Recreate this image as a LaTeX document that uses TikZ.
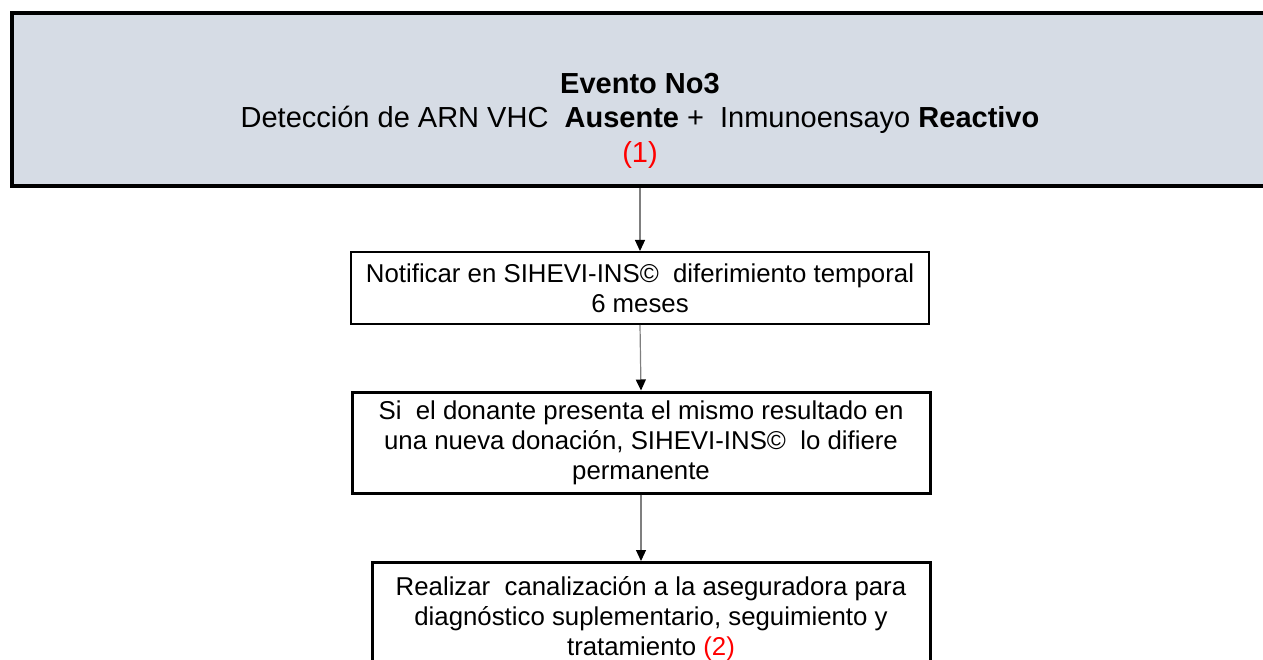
\documentclass[tikz,border=0pt]{standalone}
\usepackage{fontspec}
\setmainfont{Liberation Sans}
\usetikzlibrary{arrows.meta}
\definecolor{topfill}{HTML}{D6DCE5}
\definecolor{conngray}{HTML}{7F7F7F}
\begin{document}
\begin{tikzpicture}[x=1pt,y=-1pt,
  box/.style={draw=black,fill=white,rectangle,inner sep=0pt,align=center,
    font=\fontsize{25.8}{30}\selectfont},
  conn/.style={draw=conngray,line width=1.2pt,-{Triangle[length=11pt,width=10pt,color=black]}}]
\useasboundingbox (0,0) rectangle (1263,660);
\node[draw=black,line width=4pt,fill=topfill,rectangle,inner sep=0pt,
  minimum width=1270pt,minimum height=173pt,anchor=north west] (top) at (10,11.5) {};
\node[align=center,font=\fontsize{29}{33.5}\selectfont] (toptext) at (640,121)
  {\textbf{Evento No3}\\Detección de ARN VHC\ \ \textbf{Ausente} +\ \ Inmunoensayo \textbf{Reactivo}\\[1.5pt]\textcolor{red}{(1)}};
\node[box,line width=2pt,minimum width=578pt,minimum height=72pt] (b2) at (640,288)
  {Notificar en SIHEVI-INS©\ \ diferimiento temporal\\6 meses};
\node[box,line width=3pt,minimum width=578pt,minimum height=101pt] (b3) at (641,442.5)
  {Si\ \ el donante presenta el mismo resultado en\\una nueva donación, SIHEVI-INS©\ \ lo difiere\\permanente};
\node[box,line width=3pt,minimum width=558pt,minimum height=112pt,anchor=north] (b4) at (651,561)
  {Realizar\ \ canalización a la aseguradora para\\diagnóstico suplementario, seguimiento y\\tratamiento \textcolor{red}{(2)}};
\draw[conn] (top.south -| b2.north) -- (b2.north);
\draw[conn] (b2.south) -- (b3.north);
\draw[conn] (b3.south) -- (b3.south |- b4.north);
\end{tikzpicture}
\end{document}
